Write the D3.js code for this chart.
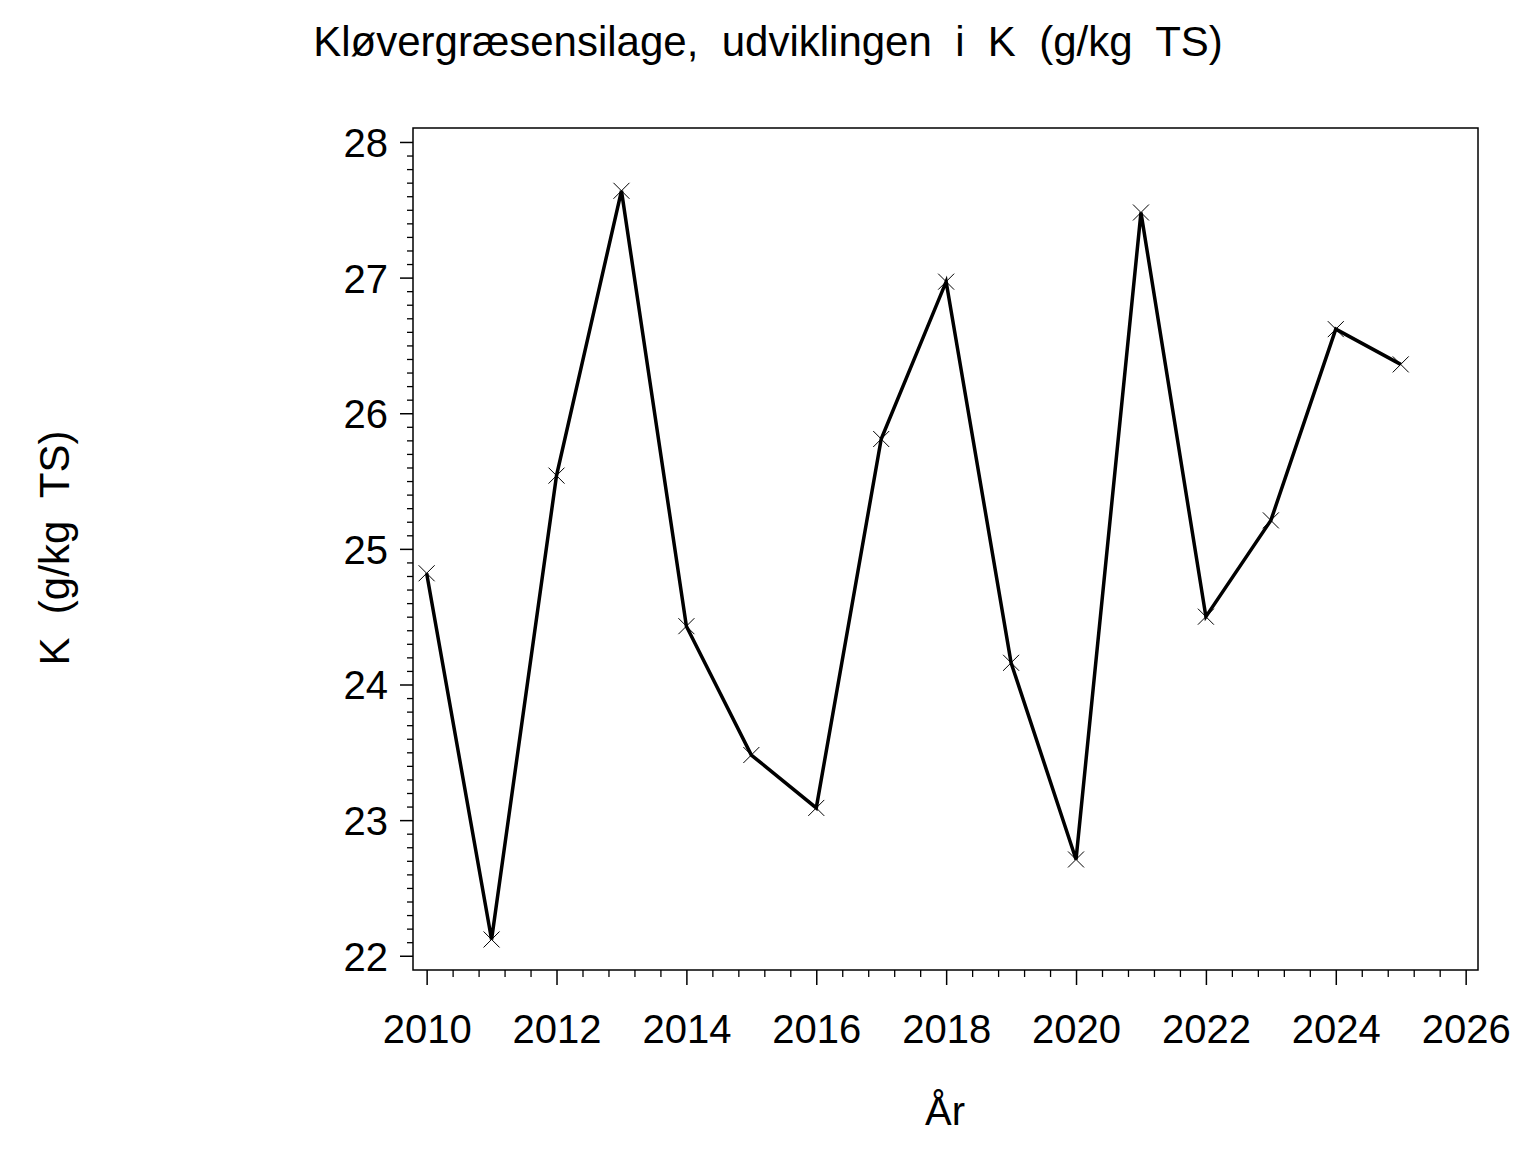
<!DOCTYPE html>
<html>
<head>
<meta charset="utf-8">
<script src="https://cdn.jsdelivr.net/npm/d3@7"></script>
<style>
  html, body { margin: 0; padding: 0; background: #fff; }
  svg { display: block; }
  text { font-family: "Liberation Sans", Arial, sans-serif; fill: #000; white-space: pre; }
</style>
</head>
<body>
<svg id="chart" width="1536" height="1152"></svg>
<script>
const years = [2010, 2011, 2012, 2013, 2014, 2015, 2016, 2017, 2018, 2019, 2020, 2021, 2022, 2023, 2024, 2025];
const kValues = [24.82, 22.12, 25.54, 27.64, 24.43, 23.48, 23.09, 25.81, 26.97, 24.16, 22.71, 27.48, 24.50, 25.21, 26.62, 26.36];
const xTicks = [2010, 2012, 2014, 2016, 2018, 2020, 2022, 2024, 2026];
const yTicks = [22, 23, 24, 25, 26, 27, 28];
const titleText = "Kløvergræsensilage,  udviklingen  i  K  (g/kg  TS)";
const xLabel = "År";
const yLabel = "K  (g/kg  TS)";

const svg = d3.select("#chart");
const pL = 413, pR = 1478, pT = 128, pB = 970;

const x = d3.scaleLinear().domain([2009.79, 2026.19]).range([pL, pR]);
const y = d3.scaleLinear().domain([21.895, 28.103]).range([pB, pT]);

// frame
svg.append("rect")
  .attr("x", pL).attr("y", pT)
  .attr("width", pR - pL).attr("height", pB - pT)
  .attr("fill", "none").attr("stroke", "#000").attr("stroke-width", 1.5);

// y minor ticks
const yMinor = d3.range(220, 281).map(v => v / 10).filter(v => !yTicks.includes(v));
svg.append("g").attr("transform", `translate(${pL},0)`)
  .call(d3.axisLeft(y).tickValues(yMinor).tickSize(6).tickFormat(""))
  .call(g => g.select(".domain").remove())
  .selectAll("line").attr("stroke", "#000").attr("stroke-width", 1.3);

// y major ticks
const yAxisG = svg.append("g").attr("transform", `translate(${pL},0)`)
  .call(d3.axisLeft(y).tickValues(yTicks).tickSize(13).tickPadding(12).tickFormat(d3.format("d")));
yAxisG.select(".domain").remove();
yAxisG.selectAll("line").attr("stroke", "#000").attr("stroke-width", 1.5);
yAxisG.selectAll("text").attr("font-size", 40).attr("dy", "0.36em")
  .style("font-family", "Liberation Sans, Arial, sans-serif").attr("fill", "#000");

// x minor ticks
const xMinor = d3.range(0, 41).map(i => 2010 + i * 0.4).filter(v => Math.abs(v - Math.round(v)) > 0.01 || Math.round(v) % 2 !== 0);
svg.append("g").attr("transform", `translate(0,${pB})`)
  .call(d3.axisBottom(x).tickValues(xMinor).tickSize(7).tickFormat(""))
  .call(g => g.select(".domain").remove())
  .selectAll("line").attr("stroke", "#000").attr("stroke-width", 1.3);

// x major ticks
const xAxisG = svg.append("g").attr("transform", `translate(0,${pB})`)
  .call(d3.axisBottom(x).tickValues(xTicks).tickSize(15).tickPadding(0).tickFormat(d3.format("d")));
xAxisG.select(".domain").remove();
xAxisG.selectAll("line").attr("stroke", "#000").attr("stroke-width", 1.5);
xAxisG.selectAll("text").attr("font-size", 40).attr("y", 73).attr("dy", 0)
  .style("font-family", "Liberation Sans, Arial, sans-serif").attr("fill", "#000");

// line
const data = years.map((yr, i) => ({ yr, v: kValues[i] }));
svg.append("path").datum(data)
  .attr("fill", "none").attr("stroke", "#000").attr("stroke-width", 3.5)
  .attr("stroke-linejoin", "miter")
  .attr("d", d3.line().x(d => x(d.yr)).y(d => y(d.v)));

// markers
const m = 8;
svg.append("g").selectAll("path").data(data).join("path")
  .attr("d", d => {
    const cx = x(d.yr), cy = y(d.v);
    return `M${cx - m},${cy - m}L${cx + m},${cy + m}M${cx - m},${cy + m}L${cx + m},${cy - m}`;
  })
  .attr("stroke", "#000").attr("stroke-width", 1).attr("fill", "none");

// title
svg.append("text").attr("x", 768).attr("y", 56).attr("text-anchor", "middle")
  .attr("font-size", 42).text(titleText);

// axis labels
svg.append("text").attr("x", 945).attr("y", 1125).attr("text-anchor", "middle")
  .attr("font-size", 40).text(xLabel);
svg.append("text").attr("transform", "translate(69,548) rotate(-90)").attr("text-anchor", "middle")
  .attr("font-size", 42).text(yLabel);
</script>
</body>
</html>
